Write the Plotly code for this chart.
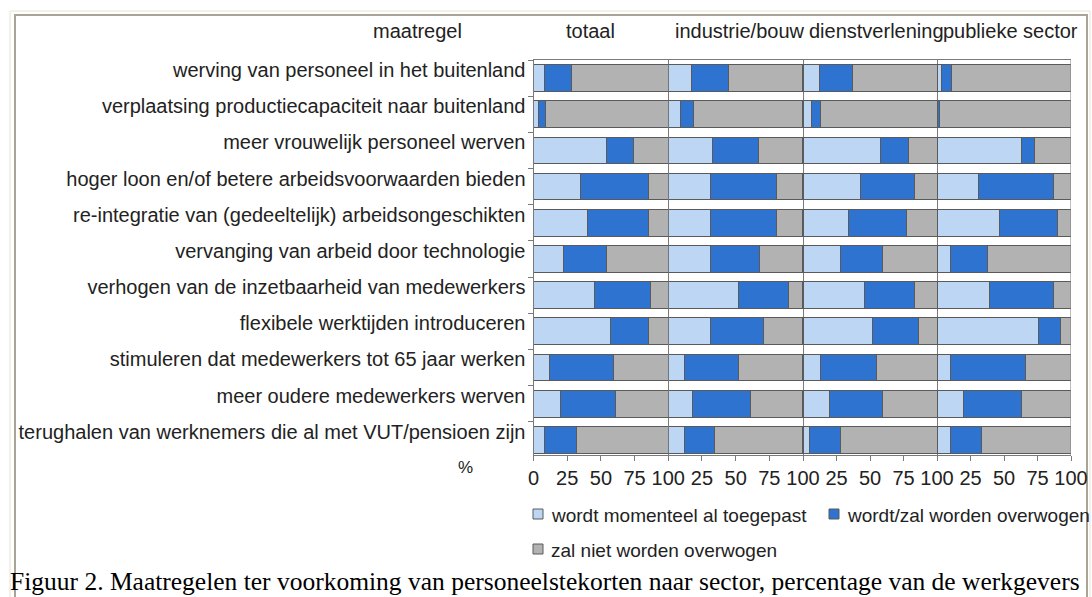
import plotly.graph_objects as go

W, H = 1092, 597

maatregelen = [
    "werving van personeel in het buitenland",
    "verplaatsing productiecapaciteit naar buitenland",
    "meer vrouwelijk personeel werven",
    "hoger loon en/of betere arbeidsvoorwaarden bieden",
    "re-integratie van (gedeeltelijk) arbeidsongeschikten",
    "vervanging van arbeid door technologie",
    "verhogen van de inzetbaarheid van medewerkers",
    "flexibele werktijden introduceren",
    "stimuleren dat medewerkers tot 65 jaar werken",
    "meer oudere medewerkers werven",
    "terughalen van werknemers die al met VUT/pensioen zijn",
]

sectoren = ["totaal", "industrie/bouw", "dienstverlening", "publieke sector"]

series_names = ["wordt momenteel al toegepast", "wordt/zal worden overwogen", "zal niet worden overwogen"]

# values per sector: [toegepast, overwogen, niet overwogen]
totaal_toegepast = [8, 4, 54, 35, 40, 22, 45, 57, 12, 20, 8]
totaal_overwogen = [20, 5, 20, 50, 45, 32, 42, 28, 47, 41, 24]
totaal_niet = [72, 91, 26, 15, 15, 46, 13, 15, 41, 39, 68]

industrie_toegepast = [17, 9, 33, 31, 31, 31, 52, 31, 12, 18, 12]
industrie_overwogen = [28, 10, 34, 49, 49, 37, 37, 40, 40, 43, 22]
industrie_niet = [55, 81, 33, 20, 20, 32, 11, 29, 48, 39, 66]

dienst_toegepast = [12, 6, 58, 43, 34, 28, 46, 52, 13, 20, 5]
dienst_overwogen = [25, 7, 21, 40, 43, 31, 37, 34, 42, 39, 23]
dienst_niet = [63, 87, 21, 17, 23, 41, 17, 14, 45, 41, 72]

publiek_toegepast = [3, 0.5, 63, 31, 47, 10, 39, 76, 10, 20, 10]
publiek_overwogen = [8, 1, 10, 56, 43, 28, 48, 16, 56, 43, 23]
publiek_niet = [89, 98.5, 27, 13, 10, 62, 13, 8, 34, 37, 67]

data = [
    (totaal_toegepast, totaal_overwogen, totaal_niet),
    (industrie_toegepast, industrie_overwogen, industrie_niet),
    (dienst_toegepast, dienst_overwogen, dienst_niet),
    (publiek_toegepast, publiek_overwogen, publiek_niet),
]

x_ticks_first = [0, 25, 50, 75, 100]
x_ticks_other = [25, 50, 75, 100]

colors = ["#bcd6f4", "#2f73d0", "#b2b2b2"]
font = "Liberation Sans, Arial, sans-serif"
fs = 20
txtcol = "#222222"
axcol = "#7a7a7a"

fig = go.Figure()
panel_edges = [533.5, 668.3, 803, 937, 1071]

for k, vals in enumerate(data):
    xa = "x" if k == 0 else f"x{k+1}"
    for s in range(3):
        fig.add_trace(go.Bar(
            y=maatregelen, x=vals[s], orientation="h",
            name=series_names[s], xaxis=xa, yaxis="y",
            marker=dict(color=colors[s], line=dict(color="#5a5a5a", width=1)),
            showlegend=False,
        ))

y_top, y_bot = 60, 455
layout = dict(
    width=W, height=H, barmode="stack", bargap=0.26,
    margin=dict(l=0, r=0, t=0, b=0, autoexpand=False),
    paper_bgcolor="white", plot_bgcolor="white",
    font=dict(family=font, size=fs, color=txtcol),
    showlegend=False,
    yaxis=dict(
        domain=[1 - y_bot / H, 1 - y_top / H],
        range=[10.42, -0.5], type="category",
        showline=True, linecolor=axcol, linewidth=1,
        ticks="outside", tickson="boundaries", ticklen=5, tickcolor=axcol,
        ticklabelshift=8, ticklabelstandoff=3,
        showgrid=False, zeroline=False, anchor="x", automargin=False,
    ),
)
for k in range(4):
    key = "xaxis" if k == 0 else f"xaxis{k+1}"
    tv = x_ticks_first if k == 0 else x_ticks_other
    layout[key] = dict(
        domain=[panel_edges[k] / W, panel_edges[k + 1] / W],
        range=[0, 100], anchor="y",
        tickvals=tv, ticktext=[str(v) for v in tv],
        ticks="outside", ticklen=5, tickcolor=axcol,
        showline=True, mirror=True, linecolor=axcol, linewidth=1,
        showgrid=False, zeroline=True, zerolinecolor=axcol, zerolinewidth=1,
        automargin=False,
    )
fig.update_layout(**layout)

# right edge of the plot area
fig.add_shape(type="line", xref="x4", yref="paper", x0=100, x1=100,
              y0=1 - y_bot / H, y1=1 - y_top / H, line=dict(color=axcol, width=1))

# frames
fig.add_shape(type="rect", xref="paper", yref="paper", x0=10 / W, x1=1090 / W, y0=-0.05, y1=1 - 11 / H,
              line=dict(color="#e6e2d2", width=1), layer="below")
fig.add_shape(type="rect", xref="paper", yref="paper", x0=15 / W, x1=1087 / W, y0=-0.05, y1=1 - 15 / H,
              line=dict(color="#a9a496", width=2), layer="below")

# header labels
headers = [("maatregel", 418)] + list(zip(sectoren, [590, 740, 876, 1010]))
for txt, xc in headers:
    fig.add_annotation(text=txt, x=xc / W, y=1 - 31 / H, xref="paper", yref="paper",
                       showarrow=False, xanchor="center", yanchor="middle",
                       font=dict(family=font, size=fs, color=txtcol))
fig.add_annotation(text="%", x=465 / W, y=1 - 467 / H, xref="paper", yref="paper",
                   showarrow=False, xanchor="center", yanchor="middle",
                   font=dict(family=font, size=fs - 3, color=txtcol))

# legend (drawn manually)
legend_items = [(0, 533, 514, 549), (1, 829, 514, 845), (2, 533, 549, 549)]
for s, sx, sy, tx in legend_items:
    fig.add_shape(type="rect", xref="paper", yref="paper",
                  x0=sx / W, x1=(sx + 10) / W, y0=1 - (sy + 5) / H, y1=1 - (sy - 5) / H,
                  fillcolor=colors[s], line=dict(color="#5a5a5a", width=1))
    fig.add_annotation(text=series_names[s], x=tx / W, y=1 - (sy + 1) / H, xref="paper", yref="paper",
                       showarrow=False, xanchor="left", yanchor="middle",
                       font=dict(family=font, size=19, color=txtcol))

fig.add_annotation(text="Figuur 2. Maatregelen ter voorkoming van personeelstekorten naar sector, percentage van de werkgevers",
                   x=8 / W, y=1 - 581 / H, xref="paper", yref="paper",
                   showarrow=False, xanchor="left", yanchor="middle",
                   font=dict(family="Liberation Serif, Times New Roman, serif", size=25.5, color="#000000"))

fig.write_html("out.html",
               config={"displayModeBar": False},
               post_script="document.body.style.margin='0px';document.body.style.overflow='hidden';")
